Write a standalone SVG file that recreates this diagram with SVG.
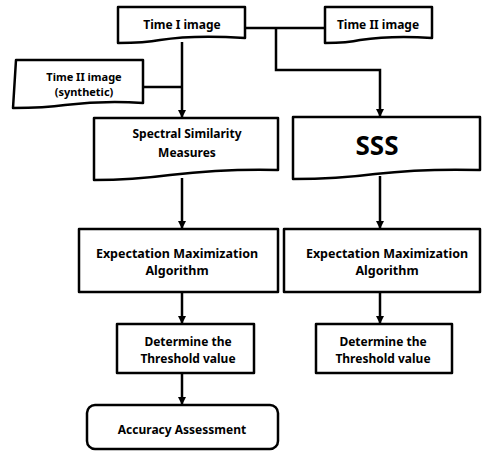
<svg xmlns="http://www.w3.org/2000/svg" width="482" height="452" viewBox="0 0 482 452">
<style>
.n{fill:#fff;stroke:#000;stroke-width:2.5;stroke-linejoin:round}
.c{fill:none;stroke:#000;stroke-width:2.5}
text{font-family:"Noto Sans","DejaVu Sans",sans-serif;font-weight:bold;font-size:12px;text-anchor:middle;fill:#000}
</style>
<defs>
<marker id="ah" markerWidth="8" markerHeight="8" refX="7" refY="4" orient="auto" markerUnits="userSpaceOnUse">
<path d="M0,0 L8,4 L0,8 Z" fill="#000"/>
</marker>
</defs>
<rect width="482" height="452" fill="#fff"/>
<g id="connectors">
<path class="c" d="M245,28 H325"/>
<path class="c" d="M276,28 V70 H380 V116" marker-end="url(#ah)"/>
<path class="c" d="M182,42 V117" marker-end="url(#ah)"/>
<path class="c" d="M143,87 H182"/>
<path class="c" d="M182,178 V228" marker-end="url(#ah)"/>
<path class="c" d="M380,176 V228" marker-end="url(#ah)"/>
<path class="c" d="M182,292 V323" marker-end="url(#ah)"/>
<path class="c" d="M380,292 V323" marker-end="url(#ah)"/>
<path class="c" d="M182,373 V404" marker-end="url(#ah)"/>
</g>
<g id="time1">
<path class="n" d="M118,7 H245 V38 C215,36 185,36 160,40 C145,43 130,43 118,43 Z"/>
<text x="182" y="29">Time I image</text>
</g>
<g id="time2">
<path class="n" d="M325,7 H432 V38 C405,36 380,37 360,40 C348,43 336,43 325,43 Z"/>
<text x="378" y="29">Time II image</text>
</g>
<g id="time2syn">
<path class="n" d="M16,60 H143 V103 C115,101 90,102 65,105 C45,108 28,108 13,108 Z"/>
<text x="84" y="81" style="font-size:11px">Time II image</text>
<text x="84" y="96" style="font-size:11px">(synthetic)</text>
</g>
<g id="spectral">
<path class="n" d="M94,118 H278 V170 C240,169 205,171 170,175 C140,179 115,180 94,180 Z"/>
<text x="187" y="138">Spectral Similarity</text>
<text x="187" y="157">Measures</text>
</g>
<g id="sss">
<path class="n" d="M293,117 H480 V170 C445,169 410,170 375,174 C345,178 315,179 293,179 Z"/>
<text x="377" y="155" style="font-size:26px">SSS</text>
</g>
<g id="em1">
<rect class="n" x="79" y="229" width="199" height="63"/>
<text x="177" y="258" style="font-size:12.5px">Expectation Maximization</text>
<text x="177" y="275" style="font-size:12.5px">Algorithm</text>
</g>
<g id="em2">
<rect class="n" x="284" y="229" width="196" height="63"/>
<text x="387" y="258" style="font-size:12.5px">Expectation Maximization</text>
<text x="387" y="275" style="font-size:12.5px">Algorithm</text>
</g>
<g id="det1">
<rect class="n" x="117" y="324" width="137" height="49"/>
<text x="188" y="346">Determine the</text>
<text x="188" y="363">Threshold value</text>
</g>
<g id="det2">
<rect class="n" x="316" y="324" width="136" height="49"/>
<text x="383" y="346">Determine the</text>
<text x="383" y="363">Threshold value</text>
</g>
<g id="accuracy">
<rect class="n" x="87" y="405" width="191" height="44" rx="8" ry="8"/>
<text x="182" y="434">Accuracy Assessment</text>
</g>
</svg>
